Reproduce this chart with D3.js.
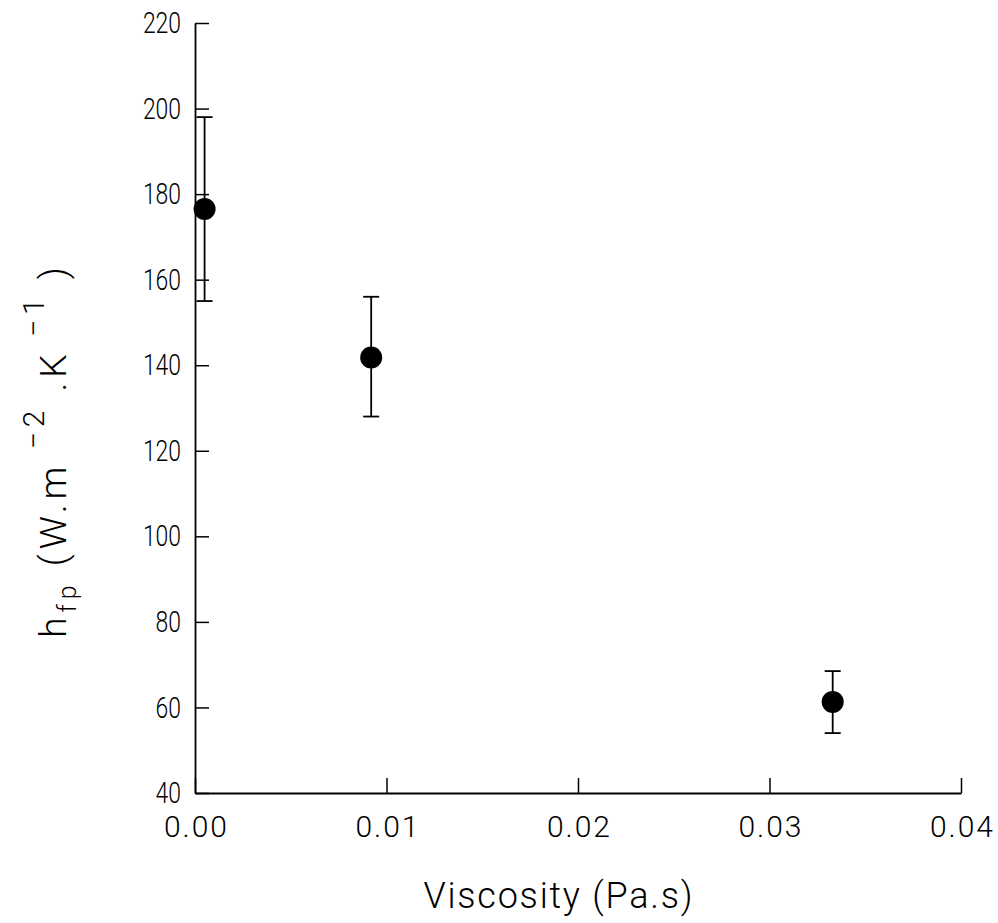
<!DOCTYPE html>
<html>
<head>
<meta charset="utf-8">
<script src="https://cdn.jsdelivr.net/npm/d3@7"></script>
<style>
  body { margin: 0; background: #fff; }
  svg text { font-family: "Roboto", "DejaVu Sans", sans-serif; font-weight: 300; fill: #000; }
</style>
</head>
<body>
<div id="chart"></div>
<script>
// data
var viscosity = [0.0005, 0.0092, 0.0333];
var hfp = [176.5, 141.8, 61.3];
var errLow = [155, 128, 54];
var errHigh = [198, 156, 68.5];
var xTicks = [0, 0.01, 0.02, 0.03, 0.04];
var yTicks = [40, 60, 80, 100, 120, 140, 160, 180, 200, 220];

function drawChart() {
    var W = 998, H = 923;
    var margin = {top: 23, right: 37, bottom: 130, left: 195},
        width = W - margin.left - margin.right,
        height = H - margin.top - margin.bottom;

    var svg = d3.select("#chart")
      .append("svg")
        .attr("width", W)
        .attr("height", H)
      .append("g")
        .attr("transform", "translate(" + margin.left + "," + margin.top + ")");

    var x = d3.scaleLinear().domain([0, 0.04]).range([0, width]);
    var y = d3.scaleLinear().domain([40, 220]).range([height, 0]);

    // y axis, ticks pointing inward
    var yAxis = svg.append("g")
      .call(d3.axisLeft(y).tickValues(yTicks).tickSizeInner(-14).tickSizeOuter(0).tickPadding(14)
        .tickFormat(d3.format("d")));
    yAxis.selectAll("text")
      .style("font-size", "30px")
      .attr("textLength", d => String(d).length * 12.7)
      .attr("lengthAdjust", "spacingAndGlyphs");

    // x axis
    var xAxis = svg.append("g")
      .attr("transform", "translate(0," + height + ")")
      .call(d3.axisBottom(x).tickValues(xTicks).tickSizeInner(-15).tickSizeOuter(0).tickPadding(21)
        .tickFormat(d3.format(".2f")));
    xAxis.selectAll("text")
      .style("font-size", "30px")
      .attr("dy", "0.75em")
      .attr("textLength", 63)
      .attr("lengthAdjust", "spacing");

    svg.selectAll(".domain").attr("stroke", "#000").attr("stroke-width", 1.8);
    svg.selectAll(".tick line").attr("stroke", "#000").attr("stroke-width", 1.5);

    var pts = viscosity.map(function(v, i) {
        return {x: v, y: hfp[i], lo: errLow[i], hi: errHigh[i]};
    });

    // error bars
    var eb = svg.append("g").selectAll(".eb").data(pts).enter().append("g");
    eb.append("line")
      .attr("x1", d => x(d.x)).attr("x2", d => x(d.x))
      .attr("y1", d => y(d.lo)).attr("y2", d => y(d.hi))
      .attr("stroke", "#000").attr("stroke-width", 1.8);
    eb.append("line")
      .attr("x1", d => x(d.x) - 8).attr("x2", d => x(d.x) + 8)
      .attr("y1", d => y(d.hi)).attr("y2", d => y(d.hi))
      .attr("stroke", "#000").attr("stroke-width", 1.8);
    eb.append("line")
      .attr("x1", d => x(d.x) - 8).attr("x2", d => x(d.x) + 8)
      .attr("y1", d => y(d.lo)).attr("y2", d => y(d.lo))
      .attr("stroke", "#000").attr("stroke-width", 1.8);

    // markers
    svg.append("g").selectAll("circle").data(pts).enter().append("circle")
      .attr("cx", d => x(d.x))
      .attr("cy", d => y(d.y))
      .attr("r", 11)
      .attr("fill", "#000");

    // x title
    svg.append("text")
      .attr("x", 558 - margin.left)
      .attr("y", height + 115)
      .attr("text-anchor", "middle")
      .attr("textLength", 269)
      .attr("lengthAdjust", "spacing")
      .style("font-size", "36px")
      .text("Viscosity (Pa.s)");

    // y title
    var yt = svg.append("text")
      .attr("transform", "translate(" + (66 - margin.left) + "," + (450 - margin.top) + ") rotate(-90)")
      .attr("text-anchor", "middle")
      .style("font-size", "37px")
      .style("letter-spacing", "5px");
    yt.append("tspan").text("h");
    yt.append("tspan").attr("dy", 10).style("font-size", "25px").text("fp");
    yt.append("tspan").attr("dy", -10).text("  (W.m");
    yt.append("tspan").attr("dy", -22).style("font-size", "30px").text(" \u22122");
    yt.append("tspan").attr("dy", 22).text("  .K");
    yt.append("tspan").attr("dy", -22).style("font-size", "30px").text(" \u22121");
    yt.append("tspan").attr("dy", 22).text("  )");
}

drawChart();
</script>
</body>
</html>
